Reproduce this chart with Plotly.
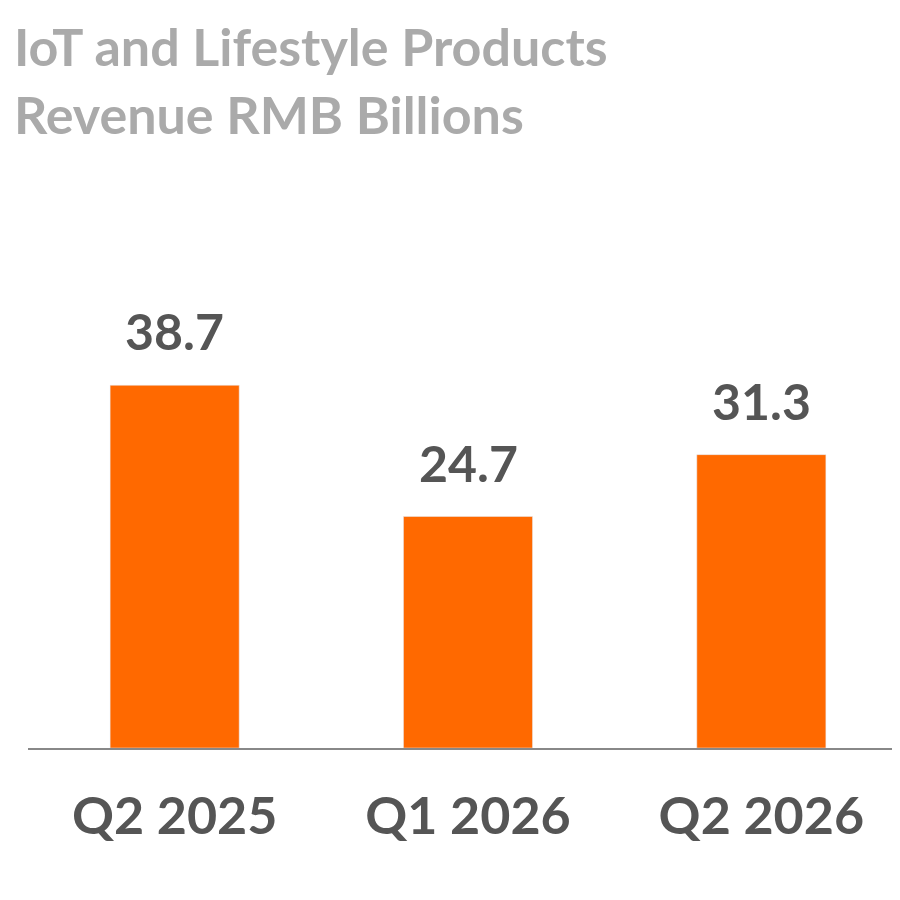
import plotly.graph_objects as go

quarters = ["Q2 2025", "Q1 2026", "Q2 2026"]
revenue = [38.7, 24.7, 31.3]

fig = go.Figure(go.Bar(
    x=quarters,
    y=revenue,
    marker_color="#ff6900",
    cliponaxis=False,
))

for q, v in zip(quarters, revenue):
    fig.add_annotation(
        x=q, y=v, text=f"{v:.1f}", showarrow=False,
        yanchor="bottom", yshift=22,
        font=dict(size=50, color="#555555", family="Lato", weight="bold"),
    )

fig.add_annotation(
    text="IoT and Lifestyle Products<br>Revenue RMB Billions",
    xref="paper", yref="paper", x=-0.018, y=1.64,
    xanchor="left", yanchor="top", align="left", showarrow=False,
    font=dict(size=52, color="#aaaaaa", family="Lato", weight="bold"),
)

fig.update_layout(
    width=900, height=900,
    margin=dict(l=20, r=0, t=292, b=160),
    paper_bgcolor="white", plot_bgcolor="white",
    bargap=0.56,
    showlegend=False,
    font=dict(family="Lato"),
    xaxis=dict(
        showline=True, linecolor="#888888", linewidth=2,
        tickfont=dict(size=52, color="#555555", weight="bold"),
        ticks="outside", ticklen=22, tickcolor="rgba(0,0,0,0)",
    ),
    yaxis=dict(range=[0, 47.8], visible=False),
)

fig.write_html("out.html")
